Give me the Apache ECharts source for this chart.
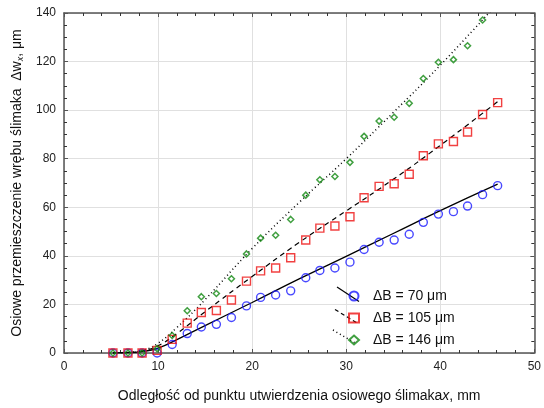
<!DOCTYPE html>
<html>
<head>
<meta charset="utf-8">
<script src="https://cdn.jsdelivr.net/npm/echarts@6/dist/echarts.min.js"></script>
<style>
  html, body { margin: 0; padding: 0; background: #fff; }
  #chart { width: 544px; height: 408px; }
</style>
</head>
<body>
<div id="chart"></div>
<script>
// odległość od punktu utwierdzenia, mm
var xMm = [5.2, 6.8, 8.3, 9.9, 11.5, 13.1, 14.6, 16.2, 17.8, 19.4, 20.9, 22.5, 24.1, 25.7,
           27.2, 28.8, 30.4, 31.9, 33.5, 35.1, 36.7, 38.2, 39.8, 41.4, 42.9, 44.5, 46.1];
// przemieszczenie, um (pomiary)
var dB70  = [0, 0, 0, 0, 3.5, 8.0, 10.7, 11.8, 14.6, 19.4, 22.9, 23.9, 25.6, 31.0,
             34.0, 35.0, 37.4, 42.6, 45.6, 46.5, 48.9, 53.8, 57.2, 58.2, 60.5, 65.2, 68.9];
var dB105 = [0, 0, 0, 1.1, 5.6, 12.3, 16.7, 17.5, 21.8, 29.6, 33.8, 35.0, 39.2, 46.5,
             51.4, 52.3, 56.1, 63.9, 68.6, 69.7, 73.6, 81.2, 86.1, 87.1, 91.0, 98.2, 103.1];
var dB146 = [0, 0, 0, 1.8, 7.2, 17.4, 23.2, 24.5, 30.6, 40.8, 47.3, 48.5, 55.0, 65.0,
             71.3, 72.7, 78.5, 89.2, 95.5, 97.1, 102.8, 113.0, 119.7, 120.8, 126.5, 137.1];
// linie dopasowania
var fitX   = [5.2, 7, 8.5, 10, 12, 15, 20, 25, 30, 35, 40, 46.1];
var fit70  = [0, 0.2, 0.7, 2.0, 5.5, 11.3, 20.8, 30.5, 39.8, 49.2, 58.6, 69.5];
var fit105 = [0, 0.2, 1.0, 3.0, 8.0, 17.0, 31.5, 45.5, 58.5, 71.5, 85.5, 103.5];
var fit146 = [0, 0.3, 1.2, 4.0, 10.5, 22.0, 43.0, 62.0, 80.0, 99.0, 118.5, 144.0];

var names = ['\u0394B = 70 \u03bcm', '\u0394B = 105 \u03bcm', '\u0394B = 146 \u03bcm'];
var yTicks = [0, 20, 40, 60, 80, 100, 120, 140];

function pairs(xs, ys) {
    var out = [];
    for (var i = 0; i < ys.length; i++) out.push([xs[i], ys[i]]);
    return out;
}

var chart = echarts.init(document.getElementById('chart'));
var font = 'Liberation Sans, Arial, sans-serif';
var axisCol = '#555';

var baseX = {
    type: 'value', min: 0, max: 50, interval: 10,
    axisLine: { show: true, onZero: false, lineStyle: { color: axisCol, width: 1.5 } },
    axisTick: { show: true, inside: true, length: 4, lineStyle: { color: axisCol } },
    minorTick: { show: true, splitNumber: 5, length: 3, lineStyle: { color: '#333' } },
    splitLine: { show: true, lineStyle: { color: '#e0e0e0', width: 1 } }
};
var baseY = {
    type: 'value', min: yTicks[0], max: yTicks[yTicks.length - 1], interval: 20,
    axisLine: { show: true, onZero: false, lineStyle: { color: axisCol, width: 1.5 } },
    axisTick: { show: true, inside: true, length: 4, lineStyle: { color: axisCol } },
    minorTick: { show: true, splitNumber: 4, length: 3, lineStyle: { color: '#333' } },
    splitLine: { show: true, lineStyle: { color: '#e0e0e0', width: 1 } }
};

var option = {
    backgroundColor: '#fff',
    animation: false,
    grid: { left: 64, right: 3, top: 13, bottom: 51 },
    xAxis: [
        Object.assign({}, baseX, {
            position: 'bottom',
            axisLabel: { color: '#222', fontFamily: font, fontSize: 12, margin: 8 },
            name: 'Odległość od punktu utwierdzenia osiowego ślimaka{i|x}, mm',
            nameLocation: 'middle', nameGap: 36,
            nameTextStyle: { color: '#111', fontFamily: font, fontSize: 14,
                rich: { i: { fontStyle: 'italic', fontFamily: font, fontSize: 14, color: '#111' } } }
        }),
        Object.assign({}, baseX, {
            position: 'top', axisLabel: { show: false }, splitLine: { show: false }
        })
    ],
    yAxis: [
        Object.assign({}, baseY, {
            position: 'left',
            axisLabel: { color: '#222', fontFamily: font, fontSize: 12, margin: 8 },
            name: 'Osiowe przemieszczenie wrębu ślimaka  \u0394w{s|x}, \u03bcm',
            nameLocation: 'middle', nameGap: 38, nameRotate: 90,
            nameTextStyle: { color: '#111', fontFamily: font, fontSize: 14,
                rich: { s: { fontSize: 9, fontStyle: 'italic', fontFamily: font, color: '#111', padding: [6, 0, 0, 0] } } }
        }),
        Object.assign({}, baseY, {
            position: 'right', axisLabel: { show: false }, splitLine: { show: false }
        })
    ],
    legend: {
        orient: 'vertical', left: 343, top: 284,
        itemWidth: 10, itemHeight: 9, itemGap: 8,
        textStyle: { fontFamily: font, fontSize: 14, color: '#111', lineHeight: 14, padding: [0, 0, 0, 9] },
        data: names
    },
    graphic: [
        { type: 'line', z: 1, shape: { x1: 337, y1: 287, x2: 359, y2: 301.5 },
          style: { stroke: '#000', lineWidth: 1.2 } },
        { type: 'line', z: 1, shape: { x1: 335, y1: 309.5, x2: 357, y2: 323 },
          style: { stroke: '#000', lineWidth: 1.2, lineDash: [4, 3] } },
        { type: 'line', z: 1, shape: { x1: 333, y1: 330, x2: 356, y2: 343.5 },
          style: { stroke: '#000', lineWidth: 1.5, lineDash: [1, 3] } }
    ],
    series: [
        { type: 'line', data: pairs(fitX, fit70), smooth: true, symbol: 'none', silent: true,
          lineStyle: { color: '#000', width: 1.3, type: 'solid' }, z: 2 },
        { type: 'line', data: pairs(fitX, fit105), smooth: true, symbol: 'none', silent: true,
          lineStyle: { color: '#000', width: 1.2, type: [5, 4] }, z: 2 },
        { type: 'line', data: pairs(fitX, fit146), smooth: true, symbol: 'none', silent: true,
          lineStyle: { color: '#000', width: 1.5, type: [1, 3] }, z: 2 },
        { name: names[0], type: 'scatter', data: pairs(xMm, dB70), symbol: 'circle', symbolSize: 8,
          itemStyle: { color: 'rgba(0,0,0,0)', borderColor: '#1a1aff', borderWidth: 1.4 }, z: 3 },
        { name: names[1], type: 'scatter', data: pairs(xMm, dB105), symbol: 'rect', symbolSize: 8,
          itemStyle: { color: 'rgba(0,0,0,0)', borderColor: '#ee1111', borderWidth: 1.4 }, z: 3 },
        { name: names[2], type: 'scatter', data: pairs(xMm, dB146), symbol: 'diamond', symbolSize: 6,
          itemStyle: { color: 'rgba(0,0,0,0)', borderColor: '#118811', borderWidth: 1.5 }, z: 3 }
    ]
};
chart.setOption(option);
</script>
</body>
</html>
